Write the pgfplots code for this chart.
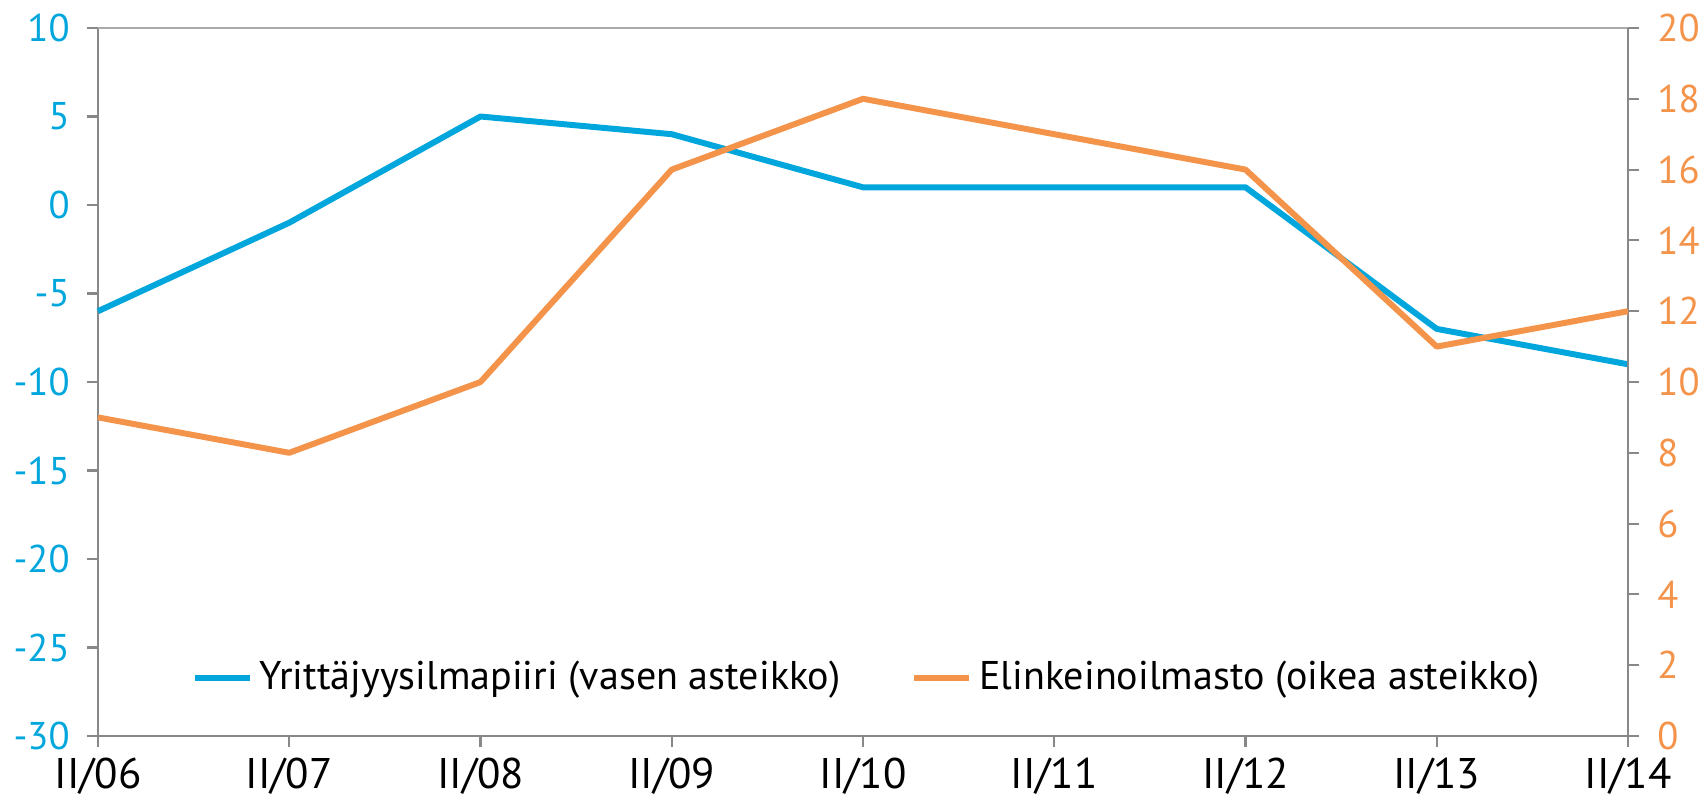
\documentclass[border=0pt]{standalone}
\usepackage{pgfplots}
\pgfplotsset{compat=1.18}
\usepackage{fontspec}
\setmainfont{PT Sans}
\definecolor{cblue}{HTML}{00A6DC}
\definecolor{corange}{HTML}{F4934A}
\definecolor{cgray}{HTML}{888888}
\definecolor{clight}{HTML}{AAAAAA}
\begin{document}
\begin{tikzpicture}
\pgfplotsset{
  every axis/.append style={
    scale only axis, width=15.30cm, height=7.08cm,
    xmin=0, xmax=8,
    axis line style={cgray, line width=0.6pt},
    tick style={cgray, line width=0.6pt},
    major tick length=0.11cm,
    /pgf/number format/assume math mode=true,
    tick label style={font=\fontsize{11}{13}\selectfont},
  }
}
\begin{axis}[
  name=ax,
  ymin=-30, ymax=10, ytick={-30,-25,...,10},
  axis x line*=bottom, axis y line*=left,
  xtick={0,...,8},
  xticklabels={II/06,II/07,II/08,II/09,II/10,II/11,II/12,II/13,II/14},
  x tick label style={font=\fontsize{12.2}{15}\selectfont, inner sep=0pt, yshift=-0.10cm},
  y tick label style={text=cblue, xshift=-0.05cm},
  xtick align=outside,
  ytick align=outside,
  clip=false,
]
\addplot[cblue, line width=1.7pt, line join=round] coordinates {
(0,-6) (1,-1) (2,5) (3,4) (4,1) (5,1) (6,1) (7,-7) (8,-9)};
\end{axis}
\draw[clight, line width=0.6pt] (ax.north west) -- (ax.north east);
\begin{axis}[
  ymin=0, ymax=20, ytick={0,2,...,20},
  axis y line*=right, axis x line=none,
  ytick align=outside,
  y tick label style={text=corange, xshift=0.06cm},
  legend style={draw=none, fill=none, at={(0.504,0.082)}, anchor=center,
    legend columns=2, font=\fontsize{11.4}{13}\selectfont,
    /tikz/every even column/.append style={column sep=0.64cm}},
  legend cell align=left,
  legend image code/.code={\draw[#1, line width=1.7pt] (0cm,0cm) -- (0.55cm,0cm);},
]
\addlegendimage{cblue}
\addlegendentry{Yrittäjyysilmapiiri (vasen asteikko)}
\addplot[corange, line width=1.7pt, line join=round] coordinates {
(0,9) (1,8) (2,10) (3,16) (4,18) (5,17) (6,16) (7,11) (8,12)};
\addlegendentry{Elinkeinoilmasto (oikea asteikko)}
\end{axis}
\pgfresetboundingbox
\path[use as bounding box] ([xshift=-0.98cm, yshift=-0.64cm]ax.south west) rectangle ([xshift=0.78cm, yshift=0.28cm]ax.north east);
\end{tikzpicture}
\end{document}
